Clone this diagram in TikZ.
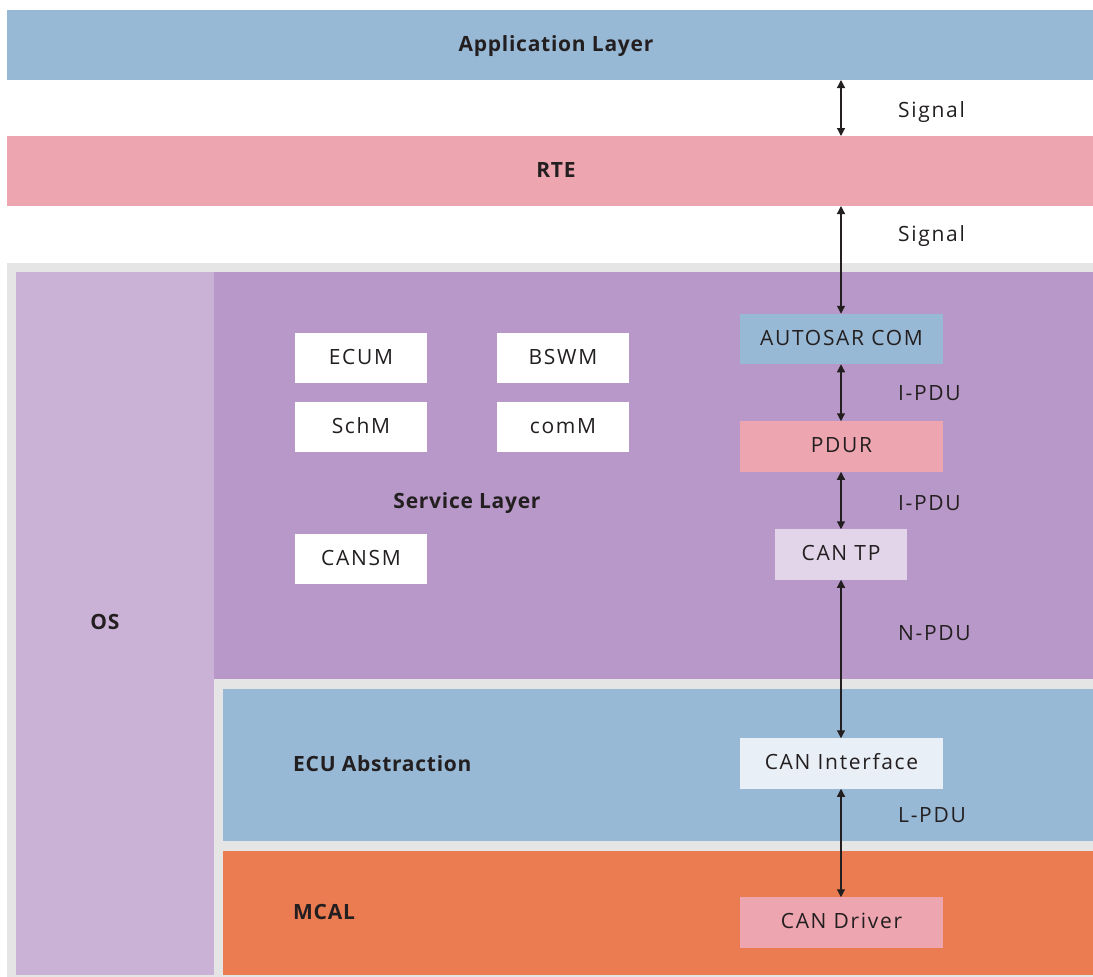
\documentclass[tikz,border=0pt]{standalone}
\usepackage{fontspec}
\setmainfont{Open Sans}
\newfontfamily\boxfont{Open Sans}[LetterSpace=8]
\newfontfamily\headfont{Open Sans}[LetterSpace=3.5]
\usetikzlibrary{arrows.meta}

\definecolor{appblue}{HTML}{98B9D6}
\definecolor{rtepink}{HTML}{EDA5B0}
\definecolor{frame}{HTML}{E5E5E5}
\definecolor{ospurple}{HTML}{CAB2D6}
\definecolor{svcpurple}{HTML}{B898C8}
\definecolor{mcalorange}{HTML}{EB7C52}
\definecolor{ifpale}{HTML}{E9EFF6}
\definecolor{tppale}{HTML}{E2D5E9}
\definecolor{ink}{HTML}{231F20}

\tikzset{
  band/.style={draw=none, inner sep=0pt, outer sep=0pt, rectangle},
  module/.style={draw=none, inner sep=0pt, outer sep=0pt, rectangle,
    minimum height=50.5pt, text height=12pt, text depth=0pt, text=ink,
    font=\boxfont\fontsize{21}{24}\selectfont},
  title/.style={text=ink, inner sep=0pt, text height=15pt, text depth=0pt,
    font=\headfont\bfseries\fontsize{21}{24}\selectfont},
  flow/.style={text=ink, inner sep=0pt, anchor=west, text height=15pt, text depth=0pt,
    font=\boxfont\fontsize{21}{24}\selectfont},
  link/.style={draw=ink, line width=1.2pt, {Triangle[length=8pt,width=8pt]}-{Triangle[length=8pt,width=8pt]}},
}

\begin{document}
\begin{tikzpicture}[x=1pt, y=-1pt]
  \useasboundingbox[fill=white] (0,0) rectangle (1093,977);

  % top layers
  \node[band, fill=appblue, minimum width=1086pt, minimum height=70pt] (app) at (550,45) {};
  \node[title] at (556,43.5) {Application Layer};
  \node[band, fill=rtepink, minimum width=1086pt, minimum height=70pt] (rte) at (550,171) {};
  \node[title] at (556,169.5) {RTE};

  % basic software frame
  \fill[frame] (7,263) rectangle (1093,977);
  \node[band, fill=ospurple, minimum width=198pt, minimum height=703pt] (os) at (115,623.5) {};
  \node[title] at (105,621.5) {OS};
  \node[band, fill=svcpurple, minimum width=879pt, minimum height=407pt] (svc) at (653.5,475.5) {};
  \node[title] at (467,500.5) {Service Layer};
  \node[band, fill=appblue, minimum width=870pt, minimum height=152pt] (ecu) at (658,765) {};
  \node[title, anchor=west] at (293,763.5) {ECU Abstraction};
  \node[band, fill=mcalorange, minimum width=870pt, minimum height=124pt] (mcal) at (658,913) {};
  \node[title, anchor=west] at (293,911.5) {MCAL};

  % service modules
  \node[module, fill=white, minimum width=132pt] (ecum) at (361,358) {ECUM};
  \node[module, fill=white, minimum width=132pt] (bswm) at (563,358) {BSWM};
  \node[module, fill=white, minimum width=132pt] (schm) at (361,427) {SchM};
  \node[module, fill=white, minimum width=132pt] (comm) at (563,427) {comM};
  \node[module, fill=white, minimum width=132pt] (cansm) at (361,559) {CANSM};

  % communication stack
  \node[module, fill=appblue, minimum width=203pt] (com) at (841.5,339) {AUTOSAR COM};
  \node[module, fill=rtepink, minimum width=203pt] (pdur) at (841.5,446.5) {PDUR};
  \node[module, fill=tppale, minimum width=132pt] (cantp) at (841,554.5) {CAN TP};
  \node[module, fill=ifpale, minimum width=203pt] (canif) at (841.5,763.5) {CAN Interface};
  \node[module, fill=rtepink, minimum width=203pt] (candrv) at (841.5,922.5) {CAN Driver};

  % data paths
  \draw[link] (app.south -| cantp.north) -- (rte.north -| cantp.north);
  \draw[link] (rte.south -| cantp.north) -- (com.north -| cantp.north);
  \draw[link] (com.south -| cantp.north) -- (pdur.north -| cantp.north);
  \draw[link] (pdur.south -| cantp.north) -- (cantp.north);
  \draw[link] (cantp.south) -- (canif.north -| cantp.south);
  \draw[link] (canif.south -| cantp.south) -- (candrv.north -| cantp.south);

  % data unit labels
  \node[flow] at (898,109.5) {Signal};
  \node[flow] at (898,233.5) {Signal};
  \node[flow] at (898,392.5) {I-PDU};
  \node[flow] at (898,502.5) {I-PDU};
  \node[flow] at (898,632.5) {N-PDU};
  \node[flow] at (898,814.5) {L-PDU};
\end{tikzpicture}
\end{document}
